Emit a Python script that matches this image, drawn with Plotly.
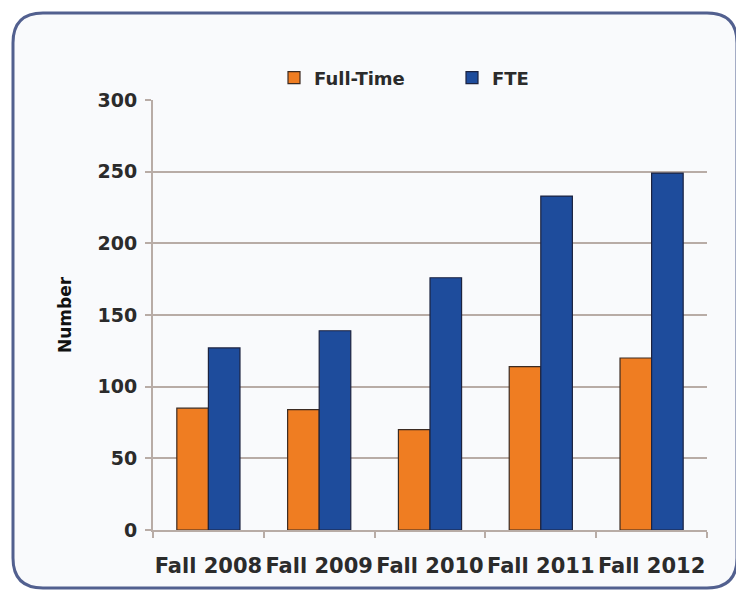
import plotly.graph_objects as go

categories = ["Fall 2008", "Fall 2009", "Fall 2010", "Fall 2011", "Fall 2012"]
full_time = [85, 84, 70, 114, 120]
fte = [127, 139, 176, 233, 249]
y_ticks = [0, 50, 100, 150, 200, 250, 300]

OFF = 8  # page body margin offset
W, H = 744 - OFF, 593 - OFF
L, R, T, B = 153 - OFF, 707 - OFF, 100 - OFF, 530 - OFF  # plot area in px


def px(x):
    return (x - OFF - L) / (R - L)


def py(y):
    return (B - (y - OFF)) / (B - T)


def rounded_path(x0, y0, x1, y1, r):
    p = lambda x, y: f"{px(x):.5f},{py(y):.5f}"
    s = f"M {p(x0 + r, y0)} L {p(x1 - r, y0)} Q {p(x1, y0)} {p(x1, y0 + r)} "
    s += f"L {p(x1, y1 - r)} Q {p(x1, y1)} {p(x1 - r, y1)} "
    s += f"L {p(x0 + r, y1)} Q {p(x0, y1)} {p(x0, y1 - r)} "
    s += f"L {p(x0, y0 + r)} Q {p(x0, y0)} {p(x0 + r, y0)} Z"
    return s


FONT = "DejaVu Sans"
TXT = "#2b2b2b"
GRID = "#b8aca6"

fig = go.Figure()
fig.add_trace(go.Bar(
    name="Full-Time", x=categories, y=full_time,
    marker=dict(color="#ef7d22", line=dict(color="#3b2b22", width=1.2)),
))
fig.add_trace(go.Bar(
    name="FTE", x=categories, y=fte,
    marker=dict(color="#1e4c9c", line=dict(color="#1c2340", width=1.2)),
))

fig.update_layout(
    width=W, height=H,
    margin=dict(l=L, r=W - R, t=T, b=H - B, autoexpand=False),
    paper_bgcolor="#ffffff",
    plot_bgcolor="rgba(0,0,0,0)",
    barmode="group", bargap=0.43, bargroupgap=0,
    font=dict(family=FONT, color=TXT, weight="bold"),
    showlegend=True,
    legend=dict(
        orientation="h", x=px(274), y=py(78), xanchor="left", yanchor="middle",
        font=dict(family=FONT, size=18, color=TXT, weight="bold"),
        bgcolor="rgba(0,0,0,0)", itemwidth=30, entrywidth=133,
    ),
    xaxis=dict(
        showline=True, linecolor=GRID, linewidth=2,
        ticks="outside", tickson="boundaries", ticklen=6, tickcolor=GRID, tickwidth=1.5,
        tickangle=0, ticklabelstandoff=16,
        tickfont=dict(family=FONT, size=21, color=TXT, weight="bold"),
        showgrid=False,
    ),
    yaxis=dict(
        range=[0, 300], tickvals=y_ticks,
        showline=True, linecolor=GRID, linewidth=2,
        ticks="outside", ticklen=6, tickcolor=GRID, tickwidth=2,
        showgrid=True, gridcolor=GRID, gridwidth=1.8,
        zeroline=False, ticklabelstandoff=4,
        tickfont=dict(family=FONT, size=19, color=TXT, weight="bold"),
        title=dict(text="Number", font=dict(family=FONT, size=17, color="#111111", weight="bold"), standoff=22),
    ),
    shapes=[dict(
        type="path", xref="paper", yref="paper", layer="below",
        path=rounded_path(13, 13, 737, 588, 30),
        line=dict(color="#52608f", width=3), fillcolor="#f9fafc",
    )],
)

fig.write_html("out.html")
